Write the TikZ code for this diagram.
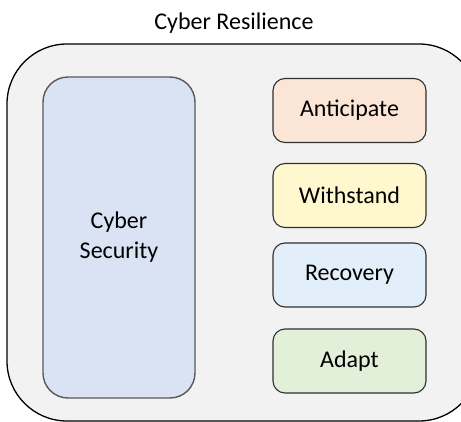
\documentclass[tikz,border=0pt]{standalone}
\usepackage{fontspec}
\setmainfont{Carlito}
\definecolor{outerfill}{HTML}{F2F2F2}
\definecolor{secfill}{HTML}{DAE3F3}
\definecolor{antfill}{HTML}{FBE5D6}
\definecolor{withfill}{HTML}{FFF7CE}
\definecolor{recfill}{HTML}{E2EFFA}
\definecolor{adafill}{HTML}{E2F0D9}
\definecolor{edge}{HTML}{303030}
\begin{document}
\begin{tikzpicture}[x=1pt,y=-1pt,
  lbl/.style={font=\fontsize{24}{30}\selectfont, text=black, align=center},
  outerbox/.style={draw=black, line width=1.3pt, fill=outerfill, rounded corners=60pt, minimum width=472pt, minimum height=377pt, inner sep=0pt},
  secbox/.style={draw=edge!80, line width=1.4pt, fill=secfill, rounded corners=25pt, minimum width=152pt, minimum height=321pt, inner sep=0pt, lbl},
  phase/.style={draw=edge, line width=1.1pt, rounded corners=12pt, minimum width=153pt, minimum height=64pt, inner sep=0pt, lbl}]
\useasboundingbox (0,0) rectangle (461,422);
\begin{scope}
\clip (0,0) rectangle (461,422);
\node[outerbox] (outer) at (243,232.5) {};
\end{scope}
\node[lbl] (title) at (234,23) {Cyber Resilience};
\node[secbox] (sec) at (119,237.5) {Cyber\\Security};
\node[phase, fill=antfill] (ant) at (349.5,110.5) {Anticipate};
\node[phase, fill=withfill] (with) at (349.5,195.5) {Withstand};
\node[phase, fill=recfill] (rec) at (349.5,275) {Recovery};
\node[phase, fill=adafill] (ada) at (349.5,361) {Adapt};
\end{tikzpicture}
\end{document}
